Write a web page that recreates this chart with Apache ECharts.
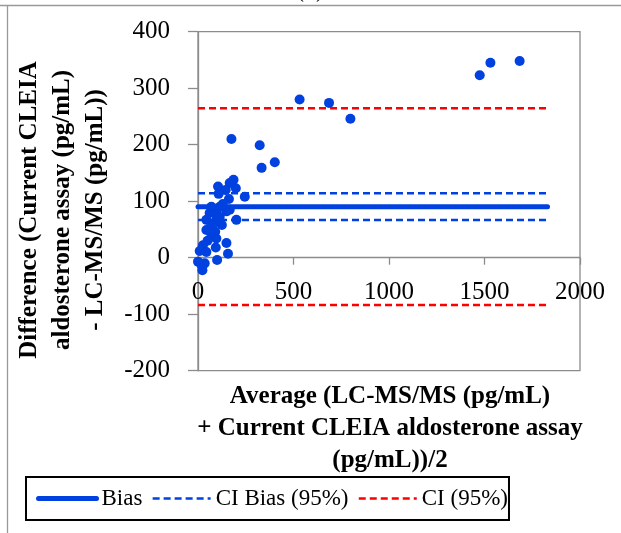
<!DOCTYPE html>
<html>
<head>
<meta charset="utf-8">
<script src="https://cdn.jsdelivr.net/npm/echarts@6/dist/echarts.min.js"></script>
<style>html,body{margin:0;padding:0;background:#fff}#c{width:621px;height:533px}</style>
</head>
<body>
<div id="c"></div>
<script>
// Average (x) and Difference (y) values
const avgVals  = [532, 686, 798, 1475, 1531, 1684, 323, 333, 402, 175, 186, 166, 105, 198, 145, 108, 245, 162, 114, 61, 96, 149, 201, 44, 96, 114, 125, 61, 44, 90, 70, 96, 149, 26, 9, 44, 93, 157, 100, 0, 35, 18, 23, 70, 166, 80, 50, 130];
const diffVals = [280, 274, 246, 323, 345, 348, 199, 159, 169, 210, 138, 132, 126, 123, 120, 113, 108, 104, 90, 79, 79, 82, 67, 67, 67, 72, 58, 52, 49, 46, 37, 34, 26, 22, 12, 10, 18, 7, -4, -7, -10, -13, -22, 90, 85, 60, 30, 95];
const biasValue = 90.3;
const ciBiasValues = [66.7, 114];
const ciValues = [264.4, -83.8];
const lineRange = [0, 1830];
const xTicks = [0, 500, 1000, 1500, 2000];
const yTicks = [-200, -100, 0, 100, 200, 300, 400];
const legendNames = ['Bias', 'CI Bias (95%)', 'CI (95%)'];

const FONT = '"Liberation Serif", "DejaVu Serif", serif';
const BLUE = '#0041df';
const RED = '#ff0000';
const GRAY = '#8c8c8c';

const points = avgVals.map((x, i) => [x, diffVals[i]]);
const hline = v => lineRange.map(x => [x, v]);

const gridTop = 31.7, gridBottomPx = 370.7;
// x axis sits on the zero line: shift the bottom axis up by the pixel distance
const zeroFrac = (yTicks[yTicks.length - 1] - 0) / (yTicks[yTicks.length - 1] - yTicks[0]);
const zeroOffset = -((gridBottomPx - gridTop) * (1 - zeroFrac));

const chart = echarts.init(document.getElementById('c'), null, {renderer: 'canvas'});
chart.setOption({
  animation: false,
  backgroundColor: '#fff',
  grid: {left: 198, top: gridTop, right: 41, bottom: 533 - gridBottomPx, show: true, borderColor: GRAY, borderWidth: 1.3, backgroundColor: 'transparent'},
  xAxis: {
    type: 'value', min: xTicks[0], max: xTicks[xTicks.length - 1], interval: 500,
    position: 'bottom', offset: zeroOffset,
    axisLine: {show: true, onZero: false, lineStyle: {color: GRAY, width: 1.3}},
    axisTick: {show: true, length: 7, inside: false, lineStyle: {color: GRAY, width: 1.3}},
    axisLabel: {show: true, margin: 22, color: '#000', fontFamily: FONT, fontSize: 25, formatter: v => String(v), showMinLabel: true, showMaxLabel: true},
    splitLine: {show: false}
  },
  yAxis: {
    type: 'value', min: yTicks[0], max: yTicks[yTicks.length - 1], interval: 100,
    axisLine: {show: true, onZero: false, lineStyle: {color: GRAY, width: 1.3}},
    axisTick: {show: true, length: 10, inside: false, lineStyle: {color: GRAY, width: 1.3}},
    axisLabel: {show: true, margin: 28, color: '#000', fontFamily: FONT, fontSize: 25},
    splitLine: {show: false}
  },
  legend: {
    data: [
      {name: legendNames[0], lineStyle: {width: 5, cap: 'round'}},
      {name: legendNames[1], lineStyle: {width: 2.5}},
      {name: legendNames[2], lineStyle: {width: 2.5}}
    ],
    left: 26, top: 477,
    orient: 'horizontal',
    itemWidth: 58, itemHeight: 14, itemGap: 9,
    padding: [10, 1, 10, 10],
    borderColor: '#000', borderWidth: 2,
    selectedMode: false,
    itemStyle: {opacity: 0},
    textStyle: {fontFamily: FONT, fontSize: 23, color: '#000'}
  },
  graphic: [
    {type: 'line', shape: {x1: 0, y1: 5.5, x2: 621, y2: 5.5}, style: {stroke: '#999', lineWidth: 1.3}, silent: true},
    {type: 'line', shape: {x1: 7.5, y1: 5.5, x2: 7.5, y2: 533}, style: {stroke: '#999', lineWidth: 1.3}, silent: true},
    {type: 'text', x: 310, y: 3, silent: true,
     style: {text: '(b)', font: '24px ' + FONT, fill: '#000', align: 'center', verticalAlign: 'bottom', textAlign: 'center', textVerticalAlign: 'bottom'}},
    {type: 'text', x: 63, y: 210, rotation: Math.PI / 2, silent: true,
     style: {text: 'Difference (Current CLEIA\naldosterone assay (pg/mL)\n- LC-MS/MS (pg/mL))', font: 'bold 25px ' + FONT, lineHeight: 33, fill: '#000', align: 'center', verticalAlign: 'middle', textAlign: 'center', textVerticalAlign: 'middle'}},
    {type: 'text', x: 390, y: 429, silent: true,
     style: {text: 'Average (LC-MS/MS (pg/mL)\n+ Current CLEIA aldosterone assay\n(pg/mL))/2', font: 'bold 25px ' + FONT, lineHeight: 32, fill: '#000', align: 'center', verticalAlign: 'middle', textAlign: 'center', textVerticalAlign: 'middle'}}
  ],
  series: [
    {name: 'Data', type: 'scatter', data: points, symbol: 'circle', symbolSize: 10, itemStyle: {color: BLUE, opacity: 1}, z: 2},
    {name: legendNames[0], type: 'line', data: hline(biasValue), symbol: 'none', lineStyle: {color: BLUE, width: 5, cap: 'round'}, itemStyle: {color: BLUE}, z: 3},
    {name: legendNames[1], type: 'line', data: hline(ciBiasValues[0]), symbol: 'none', lineStyle: {color: BLUE, width: 2.5, type: [7, 4]}, itemStyle: {color: BLUE}, z: 3},
    {name: legendNames[1], type: 'line', data: hline(ciBiasValues[1]), symbol: 'none', lineStyle: {color: BLUE, width: 2.5, type: [7, 4]}, itemStyle: {color: BLUE}, z: 3},
    {name: legendNames[2], type: 'line', data: hline(ciValues[0]), symbol: 'none', lineStyle: {color: RED, width: 2.5, type: [7, 4]}, itemStyle: {color: RED}, z: 3},
    {name: legendNames[2], type: 'line', data: hline(ciValues[1]), symbol: 'none', lineStyle: {color: RED, width: 2.5, type: [7, 4]}, itemStyle: {color: RED}, z: 3}
  ]
});
</script>
</body>
</html>
